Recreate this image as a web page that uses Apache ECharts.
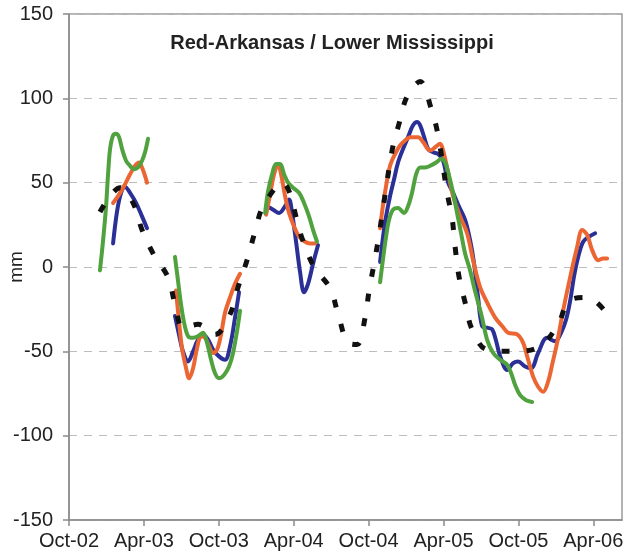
<!DOCTYPE html>
<html>
<head>
<meta charset="utf-8">
<script src="https://cdn.jsdelivr.net/npm/echarts@6/dist/echarts.min.js"></script>
<style>
html,body{margin:0;padding:0;background:#fff;}
#chart{width:629px;height:560px;}
</style>
</head>
<body>
<div id="chart"></div>
<script>
// x values are months since 1 Oct 2002
const tickMonths = [0, 6, 12, 18, 24, 30, 36, 42];
const tickLabels = ['Oct-02', 'Apr-03', 'Oct-03', 'Apr-04', 'Oct-04', 'Apr-05', 'Oct-05', 'Apr-06'];
const yTicks = [-150, -100, -50, 0, 50, 100, 150];

const blackMonths = [2.48, 4.09, 5.13, 5.85, 6.81, 7.93, 8.49, 9.13, 10.34, 11.70, 12.90, 13.54, 14.26, 14.90, 15.55, 17.07, 18.67, 19.63, 20.91, 21.56, 22.36, 23.08, 23.72, 24.04, 24.44, 24.84, 25.88, 26.44, 27.08, 28.13, 29.01, 29.57, 30.29, 30.69, 30.93, 31.25, 31.73, 32.29, 33.49, 35.90, 37.74, 39.18, 40.07, 41.51, 43.03];
const blackValues = [32.6, 47, 38, 22, 7, -6, -22, -36, -34, -40, -28, -12, 4, 21, 36, 50, 17, 0, -12.5, -28, -45, -46, -30, -14, 2, 19, 69, 85, 101, 110, 94, 78, 44, 29, 12, -6, -21, -37, -49, -50, -47, -34, -20, -18, -27];

const blueMonths = [
  [3.53, 3.85, 4.17, 4.49, 4.89, 5.37, 5.85, 6.25],
  [8.49, 8.81, 9.13, 9.54, 9.94, 10.34, 10.74, 11.14, 11.54, 12.02, 12.50, 12.90, 13.30, 13.62],
  [15.87, 16.35, 16.83, 17.31, 17.63, 17.87, 18.19, 18.51, 18.83, 19.15, 19.55, 19.95],
  [24.92, 25.16, 25.40, 25.72, 26.04, 26.36, 26.76, 27.16, 27.56, 27.89, 28.13, 28.45, 28.77, 29.17, 29.57, 29.97, 30.37, 30.77, 31.17, 31.73, 32.13, 32.45, 32.77, 33.09, 33.49, 33.90, 34.22, 34.54, 35.10, 35.58, 35.98, 36.54, 37.02, 37.58, 38.30, 38.94, 39.42, 39.83, 40.15, 40.47, 40.79, 41.19, 41.67, 42.15]
];
const blueValues = [
  [14, 33, 44, 47.5, 44, 38, 30, 23],
  [-29, -40, -50, -56, -50, -43, -40, -43, -49, -53, -55, -47, -30, -15],
  [36, 34, 32, 36, 40, 32, 15, -3, -15, -10, 2, 13],
  [3, 18, 30, 42, 52, 62, 70, 77, 84, 86, 84, 77, 70, 68, 67, 63, 50, 44, 37, 28, 16, 2, -18, -35, -36, -37, -44, -53, -61, -57, -56, -59, -60, -51, -42, -44, -39, -31, -20, -5, 6, 15, 18, 20]
];

const orangeMonths = [
  [3.53, 3.93, 4.41, 4.89, 5.29, 5.61, 5.85, 6.09, 6.25],
  [8.57, 8.81, 9.05, 9.38, 9.62, 9.94, 10.26, 10.58, 10.90, 11.22, 11.54, 11.86, 12.18, 12.50, 12.90, 13.30, 13.70],
  [15.79, 16.11, 16.43, 16.75, 16.99, 17.31, 17.63, 18.03, 18.43, 18.91, 19.31, 19.71],
  [24.92, 25.16, 25.40, 25.72, 26.12, 26.52, 26.92, 27.32, 27.97, 28.37, 28.93, 29.33, 29.73, 29.97, 30.37, 30.77, 31.33, 31.89, 32.37, 32.93, 33.49, 34.14, 34.70, 35.18, 35.90, 36.38, 36.78, 37.18, 37.58, 37.98, 38.38, 38.70, 39.10, 39.58, 40.15, 40.71, 41.11, 41.51, 41.91, 42.39, 42.79, 43.11]
];
const orangeValues = [
  [38, 42, 48, 55, 60, 62, 59, 54, 50],
  [-14, -32, -48, -60, -66, -60, -48, -41, -42, -47, -51, -49, -40, -27, -18, -10, -4],
  [31, 43, 55, 61, 55, 42, 32, 24, 18, 15, 14, 14],
  [23, 37, 48, 60, 67, 72, 75, 77, 77, 74, 69, 71, 73, 69, 56, 42, 30, 20, 4, -12, -21, -30, -35, -39, -40, -45, -55, -65, -71, -74, -68, -58, -45, -26, -6, 12, 22, 19, 10, 4, 5, 5]
];

const greenMonths = [
  [2.48, 2.72, 2.96, 3.13, 3.29, 3.53, 3.77, 4.01, 4.25, 4.57, 4.89, 5.21, 5.53, 5.85, 6.09, 6.33],
  [8.49, 8.73, 8.97, 9.22, 9.54, 9.94, 10.34, 10.74, 11.06, 11.38, 11.70, 12.02, 12.42, 12.82, 13.14, 13.46, 13.70],
  [15.71, 15.95, 16.27, 16.59, 16.91, 17.23, 17.55, 17.95, 18.43, 18.83, 19.23, 19.55, 19.87],
  [24.92, 25.16, 25.40, 25.64, 25.96, 26.36, 26.84, 27.16, 27.48, 27.81, 28.13, 28.53, 28.93, 29.41, 29.81, 30.13, 30.45, 30.77, 31.09, 31.41, 31.73, 32.13, 32.45, 32.77, 33.09, 33.49, 33.98, 34.54, 35.10, 35.42, 35.74, 36.14, 36.62, 37.10]
];
const greenValues = [
  [-2, 15, 35, 55, 70, 78, 79, 77, 70, 63, 60, 58, 59, 63, 68, 76],
  [6, -8, -22, -33, -41, -42, -41, -39, -45, -55, -63, -66, -64, -59, -51, -38, -26],
  [32, 45, 55, 61, 61, 55, 50, 47, 44, 38, 30, 22, 15],
  [-9, 5, 18, 28, 34, 35, 32, 36, 44, 55, 59, 59, 60, 62, 64, 62, 54, 44, 32, 20, 8, -2, -12, -21, -30, -43, -51, -55, -58, -63, -70, -76, -79, -80]
];

function segData(monthSegs, valueSegs) {
  const out = [];
  monthSegs.forEach((ms, i) => {
    if (i > 0) out.push([ms[0] - 0.01, '-']);
    ms.forEach((m, j) => out.push([m, valueSegs[i][j]]));
  });
  return out;
}

const FONT = "'Liberation Sans', Arial, sans-serif";
const chart = echarts.init(document.getElementById('chart'), null, {renderer: 'canvas'});

function lineSeries(name, data, color, width, type, z) {
  return {
    name: name, type: 'line', data: data, showSymbol: false, symbol: 'none',
    smooth: 0.35, connectNulls: false, z: z, animation: false,
    lineStyle: {color: color, width: width, type: type || 'solid', cap: type ? 'butt' : 'round', join: 'round'}
  };
}

chart.setOption({
  backgroundColor: '#ffffff',
  animation: false,
  title: {
    text: 'Red-Arkansas / Lower Mississippi',
    left: 327, top: 28, textAlign: 'center',
    textStyle: {fontFamily: FONT, fontWeight: 'bold', fontSize: 20, color: '#222'}
  },
  grid: {left: 69, right: 7, top: 14, bottom: 40, show: true, borderColor: '#9a9a9a', borderWidth: 1.5,
         containLabel: false, outerBoundsMode: 'none'},
  xAxis: {
    type: 'value', min: 0, max: 44.3,
    axisLine: {show: true, onZero: false, lineStyle: {color: '#8a8a8a', width: 1.5}},
    axisTick: {show: true, inside: false, length: 6, customValues: tickMonths, lineStyle: {color: '#8a8a8a', width: 1.5}},
    axisLabel: {
      customValues: tickMonths, margin: 11,
      fontFamily: FONT, fontSize: 20, color: '#222',
      formatter: v => { const i = tickMonths.indexOf(Math.round(v)); return i >= 0 ? tickLabels[i] : ''; }
    },
    splitLine: {show: false}
  },
  yAxis: {
    type: 'value', min: yTicks[0], max: yTicks[yTicks.length - 1], interval: 50,
    name: 'mm', nameLocation: 'middle', nameGap: 43, nameRotate: 90, nameMoveOverlap: false,
    nameTextStyle: {fontFamily: FONT, fontSize: 19, color: '#222'},
    axisLine: {show: true, lineStyle: {color: '#8a8a8a', width: 1.5}},
    axisTick: {show: true, inside: false, length: 6, lineStyle: {color: '#8a8a8a', width: 1.5}},
    axisLabel: {margin: 16, fontFamily: FONT, fontSize: 20, color: '#222'},
    splitLine: {show: true, lineStyle: {color: '#bdbdbd', type: [8, 7], width: 1}}
  },
  series: [
    lineSeries('blue', segData(blueMonths, blueValues), '#2b3097', 4, null, 2),
    lineSeries('orange', segData(orangeMonths, orangeValues), '#ec6633', 4, null, 3),
    lineSeries('green', segData(greenMonths, greenValues), '#4fa23e', 4, null, 4),
    lineSeries('black', blackMonths.map((m, i) => [m, blackValues[i]]), '#111111', 5, [8, 17], 5)
  ]
});
</script>
</body>
</html>
